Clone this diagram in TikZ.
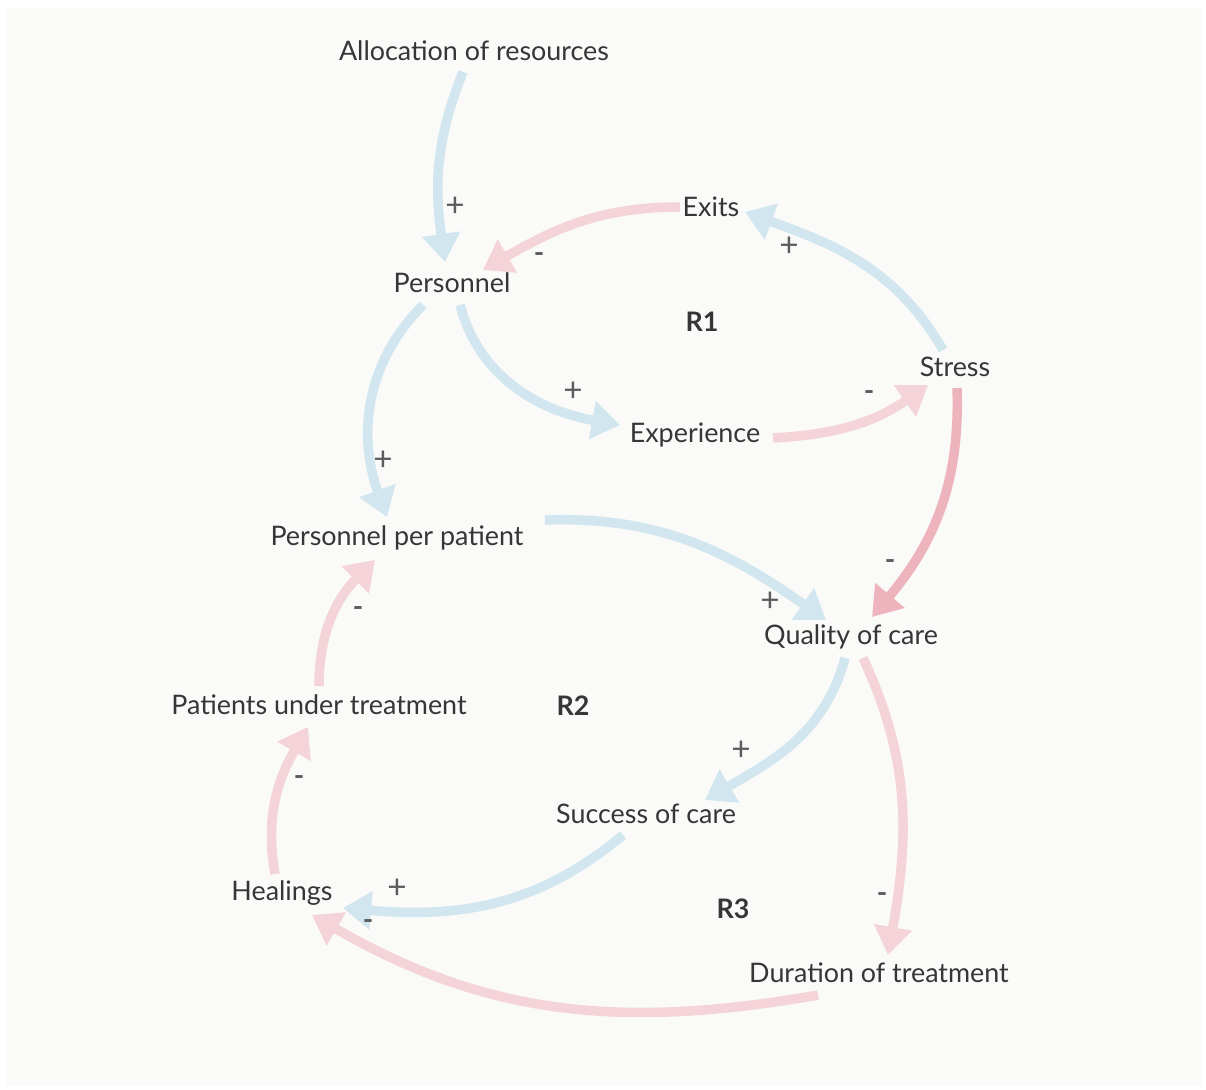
\documentclass[tikz,border=0pt]{standalone}
\usepackage{fontspec}
\setmainfont{Lato}
\usepackage{tikz}
\usetikzlibrary{arrows.meta}

\definecolor{linkblue}{HTML}{D2E6EF}
\definecolor{linkpink}{HTML}{F4D3D9}
\definecolor{linkred}{HTML}{EEB4BE}
\definecolor{labelgray}{HTML}{363636}
\definecolor{signgray}{HTML}{5C5C5C}
\definecolor{canvas}{HTML}{FAFAF8}

\begin{document}
\begin{tikzpicture}[
  x=0.02cm, y=0.02cm,
  font=\fontsize{15.3}{18}\selectfont,
  var/.style={text=labelgray,inner sep=0pt},
  loopname/.style={text=labelgray,inner sep=0pt,font=\fontsize{15.3}{18}\selectfont\bfseries},
  sign/.style={text=signgray,inner sep=0pt,font=\fontsize{19}{20}\selectfont},
  minus/.style={sign,font=\fontsize{16}{18}\selectfont\bfseries},
  link/.style={line width=5.4pt,-{Triangle[length=16pt,width=21pt]}},
  poslink/.style={link,draw=linkblue},
  neglink/.style={link,draw=linkpink},
  stronglink/.style={link,draw=linkred}
]
\useasboundingbox (0,0) rectangle (1206,1089);
\fill[canvas] (6,3) rectangle (1202,1081);

% variables
\node[var] (alloc) at (474,1038) {Allocation of resources};
\node[var] (exits) at (711,882) {Exits};
\node[var] (personnel) at (452,806) {Personnel};
\node[var] (stress) at (955,722) {Stress};
\node[var] (experience) at (695,654) {Experience};
\node[var] (ppp) at (397,551) {Personnel per patient};
\node[var] (quality) at (851,452) {Quality of care};
\node[var] (patients) at (319,384) {Patients under treatment};
\node[var] (success) at (646,275) {Success of care};
\node[var] (healings) at (282,196) {Healings};
\node[var] (duration) at (879,116) {Duration of treatment};

% loop markers
\node[loopname] (r1) at (702,767) {R1};
\node[loopname] (r2) at (573,383) {R2};
\node[loopname] (r3) at (733,180) {R3};

% causal links
\draw[poslink] ([shift={(-11,-21)}]alloc.center) to[out=-112,in=98] ([shift={(-7,21)}]personnel.center);
\draw[neglink] ([shift={(-31,0)}]exits.center) to[out=180,in=30] ([shift={(31,13)}]personnel.center);
\draw[poslink] ([shift={(-12,17)}]stress.center) to[out=120,in=-20] ([shift={(34,-5)}]exits.center);
\draw[poslink] ([shift={(8,-22)}]personnel.center) to[out=-75,in=170] ([shift={(-75,10)}]experience.center);
\draw[neglink] ([shift={(78,-3)}]experience.center) to[out=3,in=-145] ([shift={(-27,-18)}]stress.center);
\draw[poslink] ([shift={(-29,-22)}]personnel.center) to[out=-135,in=110] ([shift={(-10,21)}]ppp.center);
\draw[poslink] ([shift={(148,18)}]ppp.center) to[out=2,in=145] ([shift={(-25,17)}]quality.center);
\draw[stronglink] ([shift={(2,-21)}]stress.center) to[out=-88,in=50] ([shift={(21,20)}]quality.center);
\draw[poslink] ([shift={(-6,-21)}]quality.center) to[out=-105,in=30] ([shift={(59,14)}]success.center);
\draw[neglink] ([shift={(12,-21)}]quality.center) to[out=-65,in=80] ([shift={(9,18)}]duration.center);
\draw[neglink] ([shift={(0,19)}]patients.center) to[out=90,in=-135] ([shift={(-22,-22)}]ppp.center);
\draw[neglink] ([shift={(-7,19)}]healings.center) to[out=100,in=-120] ([shift={(-11,-22)}]patients.center);
\draw[poslink] ([shift={(-23,-21)}]success.center) to[out=-140,in=-5] ([shift={(61,-15)}]healings.center);
\draw[neglink] ([shift={(-61,-22)}]duration.center) to[out=190,in=-30] ([shift={(30,-22)}]healings.center);

% polarities
\node[sign] (s1) at (455,882) {+};
\node[minus] (s2) at (539,831) {-};
\node[sign] (s3) at (789,842) {+};
\node[sign] (s4) at (573,697) {+};
\node[minus] (s5) at (869,693) {-};
\node[sign] (s6) at (383,628) {+};
\node[sign] (s7) at (770,487) {+};
\node[minus] (s8) at (890,524) {-};
\node[sign] (s9) at (741,338) {+};
\node[minus] (s10) at (882,191) {-};
\node[minus] (s11) at (358,477) {-};
\node[minus] (s12) at (299,308) {-};
\node[sign] (s13) at (397,200) {+};
\node[minus] (s14) at (368,164) {-};
\end{tikzpicture}
\end{document}
